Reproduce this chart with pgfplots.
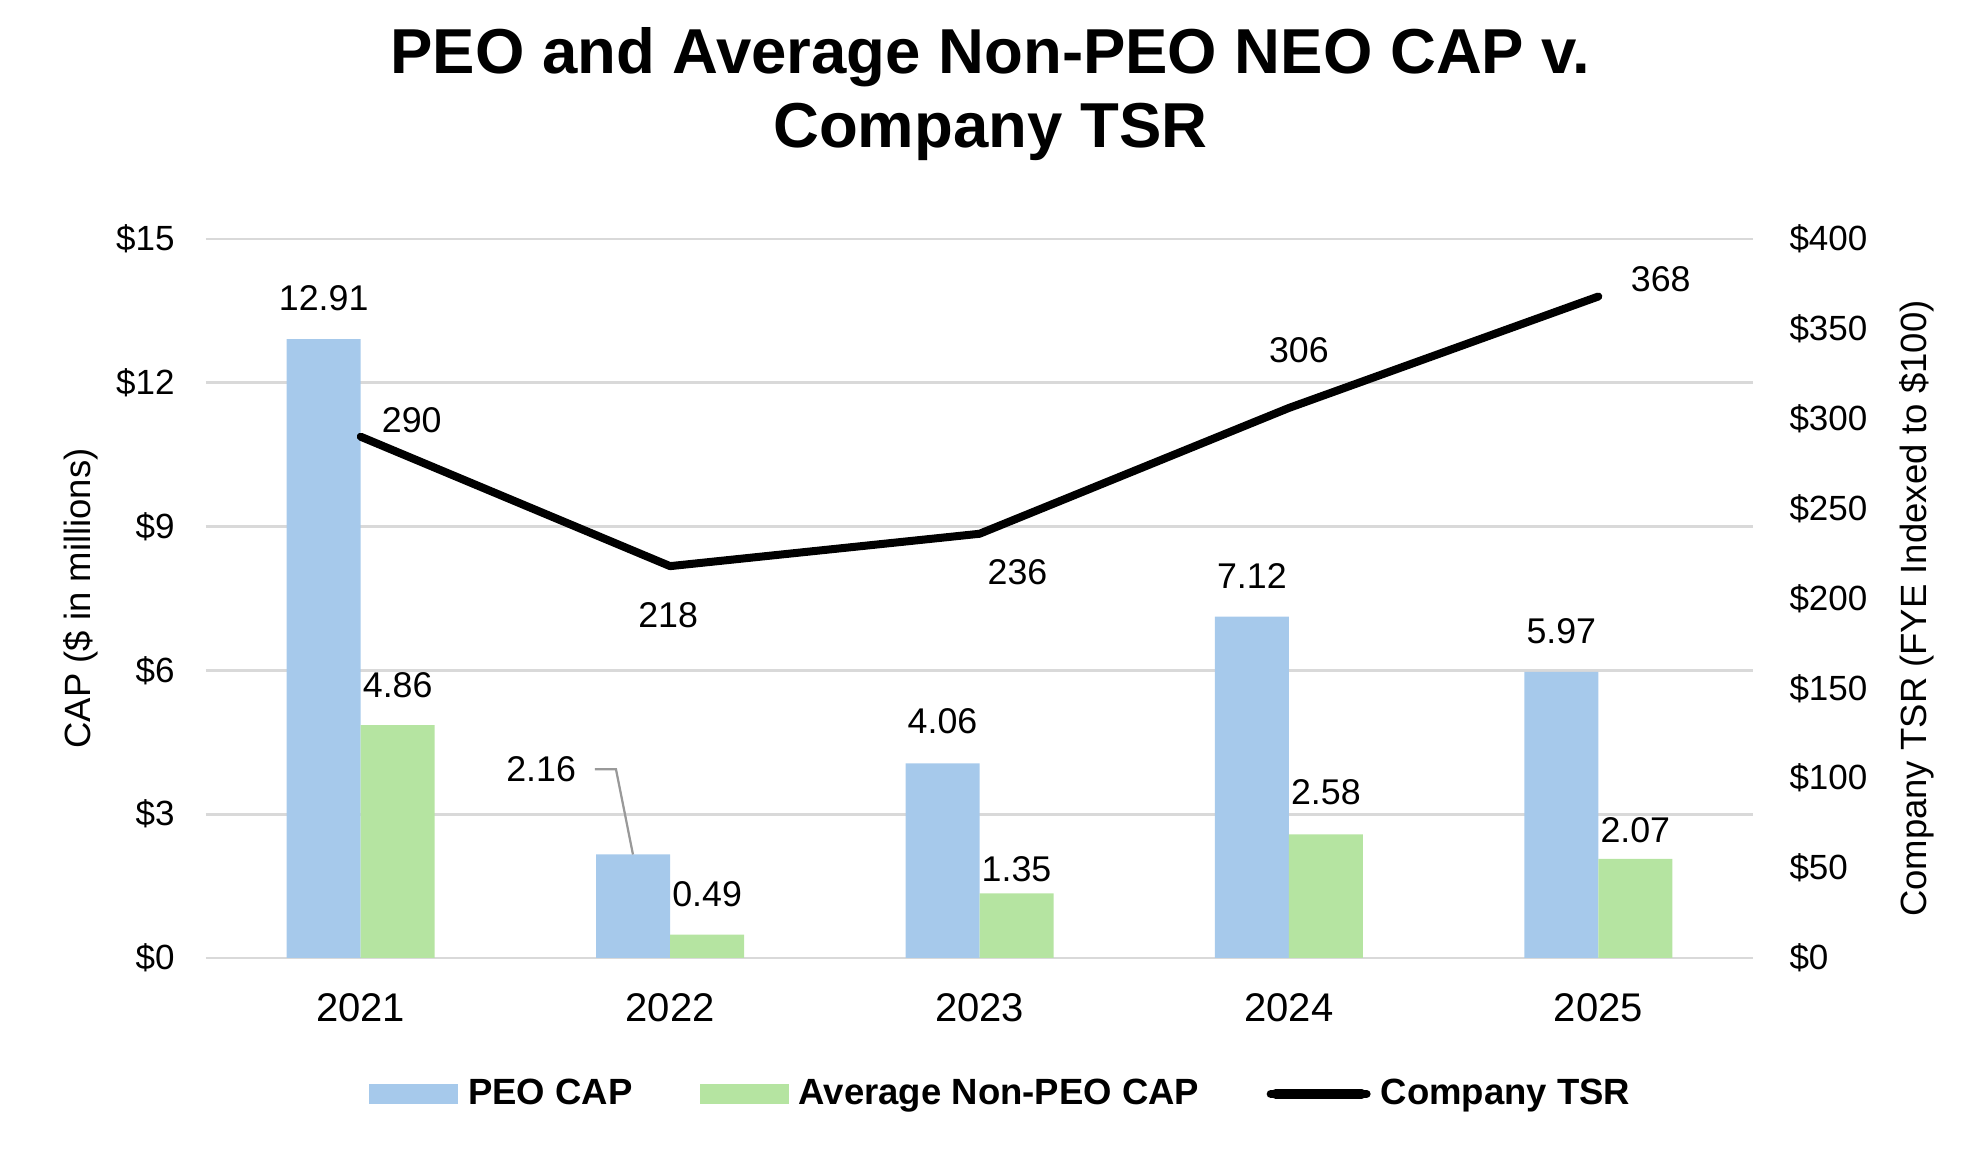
\documentclass[border=0pt]{standalone}
\usepackage{pgfplots}
\pgfplotsset{compat=1.18}
\usepackage{pgfplotstable}
\usepackage{fontspec}
\setmainfont{Liberation Sans}
\definecolor{peoblue}{RGB}{166,201,235}
\definecolor{avggreen}{RGB}{181,228,161}
\definecolor{gridgray}{RGB}{217,217,217}

\pgfplotstableread{
x y lab dx dy
0 12.91 12.91 -14.8 16.4
1 2.16 2.16 -51.6 34.2
2 4.06 4.06 -14.8 16.8
3 7.12 7.12 -14.8 16.2
4 5.97 5.97 -14.8 16.4
}\peo
\pgfplotstableread{
x y lab dx dy
0 4.86 4.86 14.8 15.8
1 0.49 0.49 14.8 16.0
2 1.35 1.35 14.8 9.6
3 2.58 2.58 14.8 16.8
4 2.07 2.07 14.8 11.6
}\avg
\pgfplotstableread{
x y lab dx dy
0 290 290 20.4 6.7
1 218 218 -0.8 -19.6
2 236 236 15.2 -15.2
3 306 306 4.0 23.0
4 368 368 25.0 7.0
}\tsr

\pgfplotsset{
  base/.style={
    width=618.8pt, height=287.6pt, scale only axis,
    at={(0,0)}, anchor=south west,
    xmin=-0.5, xmax=4.5,
    axis line style={draw=none},
    major tick length=0pt,
    /pgf/number format/assume math mode=true,
  },
  lbl/.style={
    point meta=explicit symbolic,
    nodes near coords,
    visualization depends on={\thisrow{dx}\as\dx},
    visualization depends on={\thisrow{dy}\as\dy},
    nodes near coords style={anchor=center, inner sep=0pt, xshift={\dx pt}, yshift={\dy pt},
      font=\fontsize{14.3}{16}\selectfont, text=black},
  },
}

\begin{document}
\begin{tikzpicture}
\useasboundingbox (-82.4pt,-78.8pt) rectangle (709.6pt,383.2pt);
\begin{axis}[base,
  ymin=0, ymax=15,
  ytick={0,3,6,9,12,15},
  yticklabels={\$0,\$3,\$6,\$9,\$12,\$15},
  yticklabel style={anchor=east, inner sep=0pt, xshift=-12.4pt, font=\fontsize{14}{16}\selectfont},
  xtick={0,1,2,3,4},
  xticklabels={2021,2022,2023,2024,2025},
  xticklabel style={anchor=center, yshift=-20pt, font=\fontsize{16}{18}\selectfont},
  ymajorgrids,
  major grid style={draw=gridgray, line width=1.1pt},
  ylabel={CAP (\$ in millions)},
  ylabel style={at={(axis description cs:-0.0808,0.5)}, anchor=center, font=\fontsize{14.6}{17}\selectfont},
  title={PEO and Average Non-PEO NEO CAP v.\\Company TSR},
  title style={at={(axis description cs:0.507,1.181)}, anchor=center, align=center,
    font=\bfseries\fontsize{25.4}{29.6}\selectfont},
]
\addplot[ybar, bar width=29.6pt, bar shift=-14.8pt, fill=peoblue, draw=none, lbl]
  table[x=x, y=y, meta=lab] {\peo};
\addplot[ybar, bar width=29.6pt, bar shift=14.8pt, fill=avggreen, draw=none, lbl]
  table[x=x, y=y, meta=lab] {\avg};
\addplot[draw=gray!80, line width=0.9pt, forget plot] coordinates {(0.757,3.94) (0.825,3.94) (0.88,2.16)};
\end{axis}
\begin{axis}[base,
  ymin=0, ymax=400,
  axis y line*=right, axis x line=none,
  ytick={0,50,100,150,200,250,300,350,400},
  yticklabels={\$0,\$50,\$100,\$150,\$200,\$250,\$300,\$350,\$400},
  yticklabel style={anchor=west, inner sep=0pt, xshift=14.4pt, font=\fontsize{14}{16}\selectfont},
  ylabel={Company TSR (FYE Indexed to \$100)},
  ylabel style={at={(axis description cs:1.106,0.486)}, anchor=center, font=\fontsize{14.6}{17}\selectfont},
  legend columns=3,
  legend style={at={(0.513,-0.189)}, anchor=center, draw=none, fill=none,
    font=\bfseries\fontsize{14.6}{17}\selectfont,
    nodes={inner sep=0pt},
    /tikz/every odd column/.append style={column sep=4pt},
    /tikz/every even column/.append style={column sep=27pt}},
]
\addlegendimage{legend image code/.code={\fill[peoblue] (0pt,-3.8pt) rectangle (35.2pt,3.8pt);}}
\addlegendentry{PEO CAP}
\addlegendimage{legend image code/.code={\fill[avggreen] (0pt,-3.8pt) rectangle (35.2pt,3.8pt);}}
\addlegendentry{Average Non-PEO CAP}
\addplot[black, line width=3.2pt, line cap=round, line join=round, mark=none, lbl,
  legend image code/.code={\path (0pt,0pt) rectangle (38.4pt,0pt); \draw[black, line width=4pt, line cap=round] (2pt,0pt) -- (36.4pt,0pt);}]
  table[x=x, y=y, meta=lab] {\tsr};
\addlegendentry{Company TSR}
\end{axis}
\end{tikzpicture}
\end{document}
